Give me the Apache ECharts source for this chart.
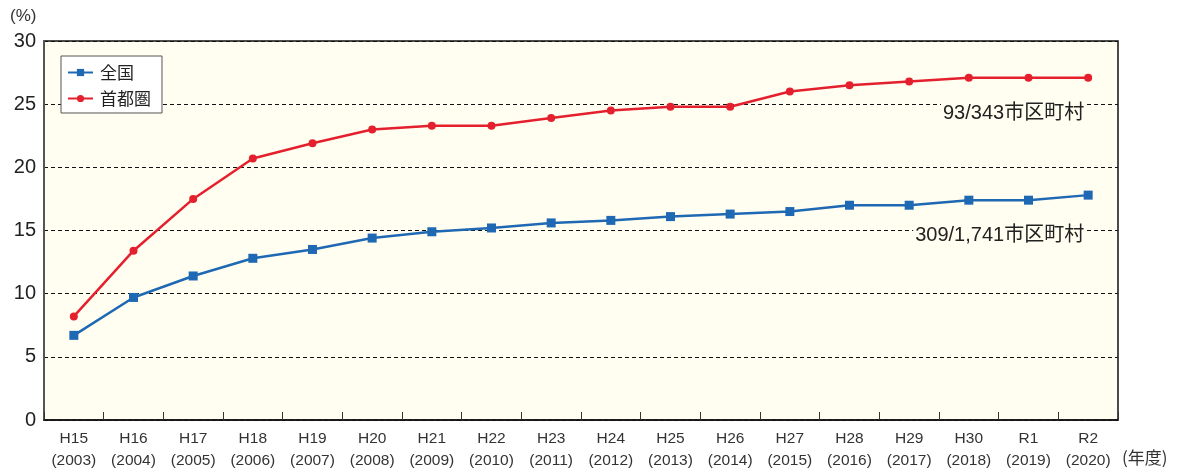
<!DOCTYPE html>
<html>
<head>
<meta charset="utf-8">
<script src="https://cdn.jsdelivr.net/npm/echarts@6/dist/echarts.min.js"></script>
<style>
  html, body { margin: 0; padding: 0; background: #ffffff; }
  #chart { width: 1180px; height: 472px; }
</style>
</head>
<body>
<div id="chart"></div>
<script>
// Fiscal years (Japanese era + western year)
const eraLabels = ['H15','H16','H17','H18','H19','H20','H21','H22','H23','H24','H25','H26','H27','H28','H29','H30','R1','R2'];
const yearLabels = ['2003','2004','2005','2006','2007','2008','2009','2010','2011','2012','2013','2014','2015','2016','2017','2018','2019','2020'];

// Share of municipalities (%)
const nationwide = [6.7, 9.7, 11.4, 12.8, 13.5, 14.4, 14.9, 15.2, 15.6, 15.8, 16.1, 16.3, 16.5, 17.0, 17.0, 17.4, 17.4, 17.8];
const capitalRegion = [8.2, 13.4, 17.5, 20.7, 21.9, 23.0, 23.3, 23.3, 23.9, 24.5, 24.8, 24.8, 26.0, 26.5, 26.8, 27.1, 27.1, 27.1];

// Series names and end-of-period notes
const seriesNames = ['全国', '首都圏'];
const nationwideNote = '309/1,741市区町村';
const capitalNote = '93/343市区町村';

// Y-axis range
const yMin = 0, yMax = 30, yStep = 5;

const categories = eraLabels.map((e, i) => e + '\n(' + yearLabels[i] + ')');

const plotBg = '#fffef0';
const blue = '#1f68b4';
const red = '#e5202e';
const numFont = '"Liberation Sans", Arial, "Noto Sans CJK JP", sans-serif';
const jpFont = '"Noto Sans CJK JP", sans-serif';

const chart = echarts.init(document.getElementById('chart'), null, { renderer: 'canvas' });

function noteLabel(text, dy) {
  return {
    show: true,
    formatter: text,
    position: 'left',
    distance: 3,
    offset: [0, dy],
    color: '#222',
    fontFamily: numFont,
    fontSize: 20,
    backgroundColor: plotBg,
    padding: [1, 1, 0, 2]
  };
}

chart.setOption({
  animation: false,
  backgroundColor: '#ffffff',
  grid: {
    left: 44, right: 62, top: 41, bottom: 52,
    show: true,
    backgroundColor: plotBg,
    borderColor: '#111',
    borderWidth: 1.5
  },
  legend: {
    data: seriesNames,
    orient: 'vertical',
    left: 61, top: 56,
    padding: [8, 11, 6, 6],
    itemGap: 9,
    itemWidth: 25,
    itemHeight: 9,
    backgroundColor: '#ffffff',
    borderColor: '#555',
    borderWidth: 1,
    borderRadius: 0,
    textStyle: { fontFamily: jpFont, fontSize: 17, color: '#222', padding: [0, 0, 0, 2] }
  },
  graphic: [
    { type: 'text', left: 10, top: 8, style: { text: '(%)', fontFamily: numFont, fontSize: 17, fill: '#333' } },
    { type: 'text', left: 1122, top: 449, style: { text: '(年度)', fontFamily: jpFont, fontSize: 17, fill: '#333' } }
  ],
  xAxis: {
    type: 'category',
    data: categories,
    boundaryGap: true,
    axisLine: { show: true, lineStyle: { color: '#111', width: 1.5 } },
    axisTick: { show: true, inside: true, interval: 0, length: 8, lineStyle: { color: '#333', width: 1 } },
    axisLabel: {
      interval: 0,
      color: '#333',
      fontFamily: numFont,
      fontSize: 15.5,
      lineHeight: 22,
      margin: 8
    },
    splitLine: { show: false }
  },
  yAxis: {
    type: 'value',
    min: yMin, max: yMax, interval: yStep,
    axisLine: { show: true, lineStyle: { color: '#555', width: 2 } },
    axisTick: { show: false },
    axisLabel: { color: '#222', fontFamily: numFont, fontSize: 20, margin: 8 },
    splitLine: { show: true, lineStyle: { color: '#111', type: [4, 3], width: 1 } }
  },
  series: [
    {
      name: seriesNames[0],
      type: 'line',
      data: nationwide,
      symbol: 'rect',
      symbolSize: 9,
      lineStyle: { color: blue, width: 2.5 },
      itemStyle: { color: blue },
      z: 3,
      markPoint: {
        symbol: 'circle',
        symbolSize: 0,
        silent: true,
        data: [{ coord: [categories.length - 1, 15], value: 15, label: noteLabel(nationwideNote, 5) }]
      }
    },
    {
      name: seriesNames[1],
      type: 'line',
      data: capitalRegion,
      symbol: 'circle',
      symbolSize: 8,
      lineStyle: { color: red, width: 2.5 },
      itemStyle: { color: red },
      z: 3,
      markPoint: {
        symbol: 'circle',
        symbolSize: 0,
        silent: true,
        data: [{ coord: [categories.length - 1, 25], value: 25, label: noteLabel(capitalNote, 9) }]
      }
    }
  ]
});
</script>
</body>
</html>
